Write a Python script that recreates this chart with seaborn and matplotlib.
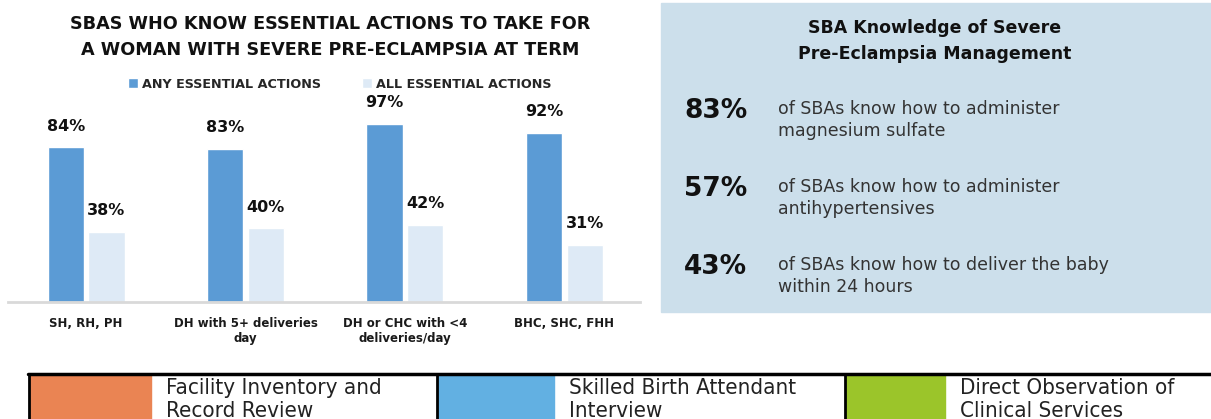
import matplotlib
matplotlib.use("Agg")
import matplotlib.pyplot as plt
from matplotlib.patches import Rectangle
from matplotlib.lines import Line2D
import seaborn as sns
import pandas as pd

# chart data
categories = ["SH, RH, PH", "DH with 5+ deliveries\nday",
              "DH or CHC with <4\ndeliveries/day", "BHC, SHC, FHH"]
any_actions = [84, 83, 97, 92]
all_actions = [38, 40, 42, 31]
series_names = ["ANY ESSENTIAL ACTIONS", "ALL ESSENTIAL ACTIONS"]
bar_colors = ["#5B9BD5", "#DEEAF6"]

# side panel data
panel_title = "SBA Knowledge of Severe\nPre-Eclampsia Management"
panel_pcts = ["83%", "57%", "43%"]
panel_texts = ["of SBAs know how to administer\nmagnesium sulfate",
               "of SBAs know how to administer\nantihypertensives",
               "of SBAs know how to deliver the baby\nwithin 24 hours"]

# data source strip
source_labels = ["Facility Inventory and\nRecord Review",
                 "Skilled Birth Attendant\nInterview",
                 "Direct Observation of\nClinical Services"]
source_colors = ["#EA8453", "#62B0E2", "#9BC52A"]

W, H = 1211, 419


def fx(x):
    return x / W


def fy(y):
    return 1 - y / H


sns.set_theme(style="white")
plt.rcParams['font.family'] = ['DejaVu Sans']

fig = plt.figure(figsize=(W / 100, H / 100), dpi=100)

df = pd.DataFrame({
    "category": categories * 2,
    "value": any_actions + all_actions,
    "series": [series_names[0]] * 4 + [series_names[1]] * 4,
})

ax = fig.add_axes([fx(8), fy(302), fx(640) - fx(8), fy(118) - fy(302)])
sns.barplot(data=df, x="category", y="value", hue="series", palette=bar_colors,
            width=0.51, gap=0.11, saturation=1, ax=ax)
ax.set_ylim(0, 100)
ax.set_xlim(-0.49, 3.475)
ax.set_xlabel("")
ax.set_ylabel("")
ax.set_yticks([])
for side in ["top", "right", "left"]:
    ax.spines[side].set_visible(False)
ax.spines["bottom"].set_color("#D9D9D9")
ax.spines["bottom"].set_linewidth(2)
ax.tick_params(axis="x", length=0, pad=11)
for lbl in ax.get_xticklabels():
    lbl.set_fontsize(8.5)
    lbl.set_fontweight("bold")
    lbl.set_color("#1a1a1a")
    lbl.set_verticalalignment("top")

for cont, vals in zip(ax.containers, [any_actions, all_actions]):
    ax.bar_label(cont, labels=[f"{v}%" for v in vals], padding=10,
                 fontsize=11.5, fontweight="bold", color="#111111")

handles, labels = ax.get_legend_handles_labels()
ax.legend(handles, labels, loc="center", ncol=2, frameon=False,
          bbox_to_anchor=(fx(340), fy(84)), bbox_transform=fig.transFigure,
          handlelength=0.75, handleheight=0.75, handletextpad=0.35,
          columnspacing=3.2, prop={"weight": "bold", "size": 9.2})

fig.text(fx(330), fy(37), "SBAS WHO KNOW ESSENTIAL ACTIONS TO TAKE FOR\nA WOMAN WITH SEVERE PRE-ECLAMPSIA AT TERM",
         ha="center", va="center", fontsize=12.7, fontweight="bold",
         color="#111111", linespacing=1.55)

# side panel
fig.patches.append(Rectangle((fx(661), fy(312)), fx(1211) - fx(661), fy(3) - fy(312),
                             transform=fig.transFigure, color="#CCDFEB", zorder=0))
fig.text(fx(935), fy(41), panel_title, ha="center", va="center", fontsize=12.5,
         fontweight="bold", color="#111111", linespacing=1.55)
for i, (pct, txt) in enumerate(zip(panel_pcts, panel_texts)):
    yc = 120 + i * 78
    fig.text(fx(684), fy(yc - 9), pct, ha="left", va="center", fontsize=19,
             fontweight="bold", color="#111111")
    fig.text(fx(778), fy(yc), txt, ha="left", va="center", fontsize=12.5,
             color="#333333", linespacing=1.35)

# data source strip
fig.lines.append(Line2D([fx(28), fx(1211)], [fy(374), fy(374)], transform=fig.transFigure,
                        color="black", linewidth=2.5))
strip_x = [30, 438, 846]
strip_w = [121, 116, 99]
for x0, w, col, txt in zip(strip_x, strip_w, source_colors, source_labels):
    fig.patches.append(Rectangle((fx(x0), fy(419)), fx(w), fy(375) - fy(419),
                                 transform=fig.transFigure, color=col, zorder=1))
    fig.lines.append(Line2D([fx(x0 - 1), fx(x0 - 1)], [fy(375), fy(419)],
                            transform=fig.transFigure, color="black", linewidth=2))
    fig.text(fx(x0 + w + 15), fy(378), txt, ha="left", va="top", fontsize=16,
             fontstretch="condensed", color="#222222", linespacing=1.2)

fig.savefig("out.png", dpi=100)
